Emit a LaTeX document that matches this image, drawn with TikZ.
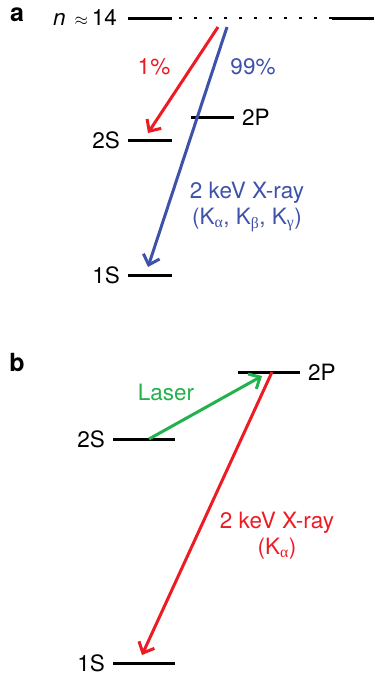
\documentclass[tikz,border=0pt]{standalone}
\usepackage{fontspec}
\setmainfont{TeX Gyre Heros}
\newfontfamily\grk{Liberation Serif}
\usetikzlibrary{arrows.meta,positioning}
\definecolor{xred}{RGB}{237,28,36}
\definecolor{xblue}{RGB}{62,82,170}
\definecolor{xgreen}{RGB}{34,177,76}
\newcommand{\ksub}[1]{K\textsubscript{\grk #1}}

\begin{document}
\begin{tikzpicture}[
x=1pt, y=-1pt,
node distance=8pt,
level/.style={line width=3pt},
trans/.style={line width=3pt, -{Straight Barb[length=9pt,width=17pt]}},
lbl/.style={font=\fontsize{22.5}{26}\selectfont, inner sep=0pt},
panel/.style={font=\fontsize{25}{26}\selectfont\bfseries, inner sep=0pt}
]
\useasboundingbox (0,0) rectangle (376,675);

% panel a
\node[panel] (pa) at (17,15) {a};
\coordinate (na-l) at (128,18);  \coordinate (na-r) at (172,18);
\coordinate (nb-l) at (332,18);  \coordinate (nb-r) at (374,18);
\coordinate (p2a-l) at (191,117); \coordinate (p2a-r) at (234,117);
\coordinate (s2a-l) at (128,140); \coordinate (s2a-r) at (172,140);
\coordinate (s1a-l) at (128,275); \coordinate (s1a-r) at (172,275);
\draw[level] (na-l) -- (na-r);
\draw[level] (nb-l) -- (nb-r);
\draw[line width=1.6pt, dash pattern=on 3pt off 12pt] (na-r) ++(7,0) -- (nb-l);
\draw[level] (p2a-l) -- (p2a-r);
\draw[level] (s2a-l) -- (s2a-r);
\draw[level] (s1a-l) -- (s1a-r);
\node[lbl, left=11pt of na-l] (nlab) {\textit{n}\hspace{9pt}{\fontsize{16}{16}\selectfont$\approx$}\,14};
\node[lbl, right=of p2a-r] (p2alab) {2P};
\node[lbl, left=of s2a-l] (s2alab) {2S};
\node[lbl, left=of s1a-l] (s1alab) {1S};

\coordinate (ra) at (218,27);
\coordinate (ba) at (227,27);
\draw[trans, xred] (ra) -- (148,133) coordinate (ra-end);
\draw[trans, xblue] (ba) -- (148,267) coordinate (ba-end);
\node[lbl, xred] (one) at (154,67) {1\%};
\node[lbl, xblue] (nn) at (253,67) {99\%};
\node[lbl, xblue, align=center] (xa) at (247,207) {2 keV X-ray\\(\ksub{α}, \ksub{β}, \ksub{γ})};

% panel b
\node[panel] (pb) at (17,362) {b};
\coordinate (p2b-l) at (238,372); \coordinate (p2b-r) at (300,372);
\coordinate (s2b-l) at (113,439); \coordinate (s2b-r) at (175,439);
\coordinate (s1b-l) at (113,663); \coordinate (s1b-r) at (175,663);
\draw[level] (p2b-l) -- (p2b-r);
\draw[level] (s2b-l) -- (s2b-r);
\draw[level] (s1b-l) -- (s1b-r);
\node[lbl, right=of p2b-r] (p2blab) {2P};
\node[lbl, left=of s2b-l] (s2blab) {2S};
\node[lbl, left=of s1b-l] (s1blab) {1S};

\coordinate (gb) at (149,439);
\coordinate (gb-end) at (262,376);
\coordinate (rb) at (272,372);
\coordinate (rb-end) at (142,655);
\draw[trans, xgreen] (gb) -- (gb-end);
\draw[trans, xred] (rb) -- (rb-end);
\node[lbl, xgreen] (laser) at (166,392) {Laser};
\node[lbl, xred, align=center] (xb) at (277,536) {2 keV X-ray\\(\ksub{α})};
\end{tikzpicture}
\end{document}
